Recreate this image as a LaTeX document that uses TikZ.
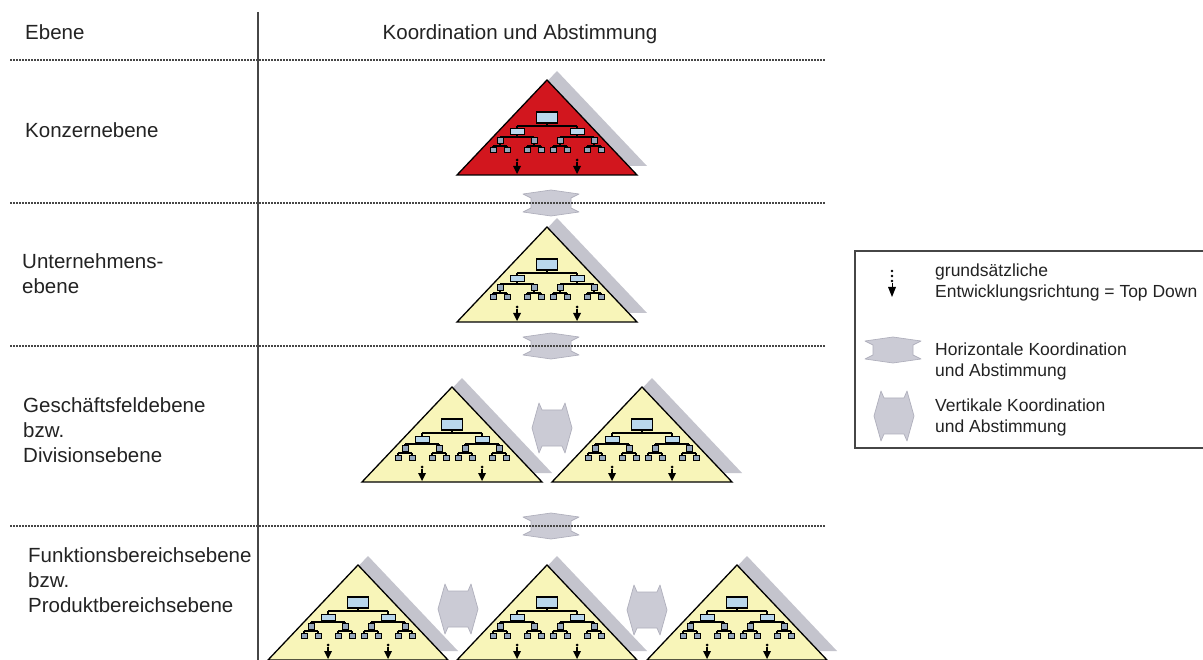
\documentclass[tikz,border=0pt]{standalone}
\usepackage{fontspec}
\setmainfont{Liberation Sans}
\definecolor{konzernred}{RGB}{210,22,30}
\definecolor{paleyellow}{RGB}{248,245,185}
\definecolor{shadowgray}{RGB}{196,196,205}
\definecolor{arrowgray}{RGB}{203,203,213}
\definecolor{arrowedge}{RGB}{175,175,188}
\definecolor{screenblue}{RGB}{185,215,236}
\definecolor{leafgray}{RGB}{150,168,188}
\definecolor{linegray}{RGB}{70,70,70}
\definecolor{textgray}{RGB}{35,35,35}

\tikzset{
  pyr/.style={draw=black, line width=1.3, line join=miter},
  treeline/.style={draw=black, line width=1.1},
  topbox/.style={fill=screenblue, draw=black, line width=1.1},
  subbox/.style={fill=screenblue, draw=black, line width=1.0},
  leafbox/.style={fill=leafgray, draw=black, line width=1.0},
  koordshape/.style={fill=arrowgray, draw=arrowedge, line width=0.7, line join=round},
  levelline/.style={draw=linegray, line width=1.3, dash pattern=on 2pt off 1pt},
  lvltext/.style={font=\fontsize{20.5}{25}\selectfont, align=left, inner sep=0pt, text=textgray},
  legtext/.style={font=\fontsize{17.5}{20.5}\selectfont, align=left, inner sep=0pt, text=textgray},
}

% organisation pyramid: apex x, apex y, fill colour
\newcommand\orgpyramid[3]{%
\begin{scope}[shift={(#1,#2)}]
  \fill[shadowgray] (10,-9) -- (100,86) -- (-80,86) -- cycle;
  \filldraw[pyr, fill=#3] (0,0) -- (90,95) -- (-90,95) -- cycle;
  \draw[treeline] (0,43) -- (0,46) (-30,46) -- (30,46) (-30,46) -- (-30,49) (30,46) -- (30,49)
     (-30,55) -- (-30,57) (30,55) -- (30,57) (-47,57) -- (-13,57) (13,57) -- (47,57);
  \foreach \u in {-47,-13,13,47}{
    \draw[treeline] (\u,57) -- (\u,58) (\u,64) -- (\u,66) (\u-7,66) -- (\u+7,66)
       (\u-7,66) -- (\u-7,68) (\u+7,66) -- (\u+7,68);
    \filldraw[leafbox] (\u-3,58) rectangle (\u+3,64);
    \filldraw[leafbox] (\u-10,68) rectangle (\u-4,73);
    \filldraw[leafbox] (\u+4,68) rectangle (\u+10,73);
  }
  \filldraw[topbox] (-10.5,32) rectangle (10.5,43);
  \draw[line width=1.6] (-4,43) -- (4,43);
  \filldraw[subbox] (-37,49) rectangle (-23,55);
  \filldraw[subbox] (23,49) rectangle (37,55);
  \foreach \u in {-30,30}{
    \fill (\u,80) circle (1.5);
    \draw[line width=1.2] (\u,82) -- (\u,87);
    \fill (\u-4,86) -- (\u+4,86) -- (\u,94) -- cycle;
  }
\end{scope}}

% coordination between levels (double arrow up/down)
\newcommand\hkoord[2]{\filldraw[koordshape, shift={(#1,#2)}]
  (0,-13) -- (28,-9) -- (20,-5) -- (20,5) -- (28,9) -- (0,13) -- (-28,9) -- (-20,5) -- (-20,-5) -- (-28,-9) -- cycle;}
% coordination within a level (double arrow left/right)
\newcommand\vkoord[2]{\filldraw[koordshape, shift={(#1,#2)}]
  (-20,0) -- (-13,-25) -- (-10,-18) -- (10,-18) -- (13,-25) -- (20,0) -- (13,25) -- (10,18) -- (-10,18) -- (-13,25) -- cycle;}

\begin{document}
\begin{tikzpicture}[x=1pt,y=-1pt]
\useasboundingbox (0,0) rectangle (1203,660);
\fill[white] (0,0) rectangle (1203,660);

% coordination arrows across the level separators
\hkoord{551}{203}
\hkoord{551}{346}
\hkoord{551}{526}

% level separators and column divider
\foreach \yy in {60,203,346,526}
  \draw[levelline] (10,\yy) -- (825,\yy);
\draw[linegray, line width=2] (258,12) -- (258,660);

% pyramids
\orgpyramid{547}{80}{konzernred}
\orgpyramid{547}{227}{paleyellow}
\orgpyramid{452}{387}{paleyellow}
\orgpyramid{642}{387}{paleyellow}
\orgpyramid{358}{565}{paleyellow}
\orgpyramid{547}{565}{paleyellow}
\orgpyramid{737}{565}{paleyellow}

% coordination within a level
\vkoord{552}{428}
\vkoord{458}{609}
\vkoord{647}{610}

% column headings and level names
\node[lvltext, anchor=base west] (ebene) at (25,40) {Ebene};
\node[lvltext, anchor=base] (kopf) at (520,40) {Koordination und Abstimmung};
\node[lvltext, anchor=base west] (konzern) at (25,138) {Konzernebene};
\node[lvltext, anchor=north west] (unternehmen) at (22,253) {Unternehmens-\\ebene};
\node[lvltext, anchor=north west] (geschaeft) at (23,397) {Geschäftsfeldebene\\bzw.\\Divisionsebene};
\node[lvltext, anchor=north west] (funktion) at (28,547) {Funktionsbereichsebene\\bzw.\\Produktbereichsebene};

% legend
\draw[draw=linegray, line width=1.5] (855,251) rectangle (1212,448);
\foreach \yy in {271,276,281}
  \fill (892,\yy) circle (1.3);
\draw[line width=1] (892,283) -- (892,289);
\fill (888,287) -- (896,287) -- (892,297) -- cycle;
\node[legtext, anchor=north west] (lgtop) at (935,264) {grundsätzliche\\Entwicklungsrichtung = Top Down};
\hkoord{893}{350}
\node[legtext, anchor=north west] (lghor) at (935,343) {Horizontale Koordination\\und Abstimmung};
\vkoord{894}{416}
\node[legtext, anchor=north west] (lgver) at (935,399) {Vertikale Koordination\\und Abstimmung};
\end{tikzpicture}
\end{document}
